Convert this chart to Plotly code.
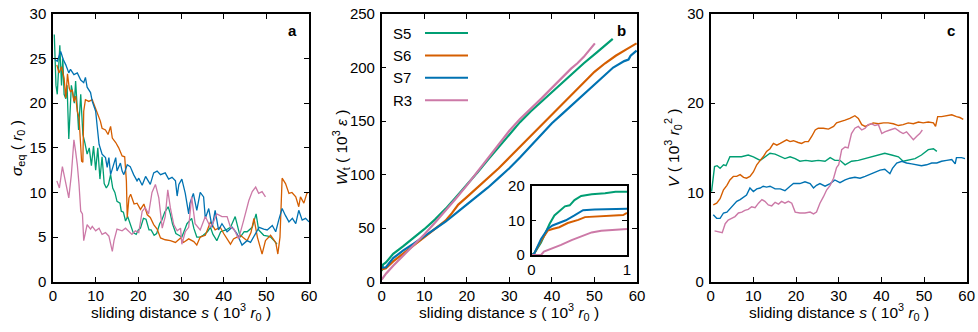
import plotly.graph_objects as go

W, H = 978, 332
def X(px): return px / W
def Y(py): return 1 - py / H

names = ["S5", "S6", "S7", "R3"]
colors = {"S5": "#009E73", "S6": "#D55E00", "S7": "#0072B2", "R3": "#CC79A7"}

# ---------------- panel a : sigma_eq (r0) vs sliding distance (10^3 r0)
a_S5_s = [0.3,0.7,1.0,1.3,1.6,2.0,2.3,2.6,3.0,3.3,3.7,4.0,4.3,4.7,5.0,5.3,5.7,6.0,6.5,6.8,7.0,7.5,8.0,8.5,9.0,9.5,10.0,10.5,11.0,11.5,12.0,12.5,13.0,13.5,14.0,14.5,15.0,15.7,16.0,16.5,17.0,17.5,18.0,18.8,19.5,20.0,20.5,21.2,21.8,22.5,23.0,23.7,24.3,25.0,25.5,26.2,27.0,27.5,28.0,28.8,29.5,30.2,31.0,31.4,32.5,33.0,33.7,34.5,35.2,36.2,36.9,37.5,38.4,39.3,40.5,41.6,42.7,43.3,43.9,44.8,45.5,46.7,47.6,48.2,49.4,50.4,51.0,51.8,52.5]
a_S5 = [27.7,22,21,24,26.5,22,25,21,20.5,22,16,19,22,21,20,22.5,19,17,21,18,16.5,15.5,14.3,15,13,15.2,12.5,15,11.5,14,11,10.5,10.9,12,10.5,10,9,8.8,7.9,7.8,6.8,7.3,6.6,5.5,5.3,5.8,6,7.1,7,5.8,5.8,5.2,5.4,6.5,6.9,7.8,8.4,7.6,6.5,5.4,5.2,5,6,6.5,7.1,6,5,5,5.2,5.6,6.1,5.3,4.6,5.6,5.8,6.1,7.3,6,5,5.6,5.6,6.1,7.6,5.8,5.2,5.1,5,4.6,4.2]
a_S6_s = [0.9,1.4,2.0,2.6,3.0,3.4,3.8,4.1,4.5,4.9,5.3,5.7,6.1,6.7,7.0,7.2,7.6,8.4,9.2,9.6,10.4,11.1,11.5,12.3,12.9,13.5,13.9,14.7,15.4,16.2,16.8,17.2,17.4,17.8,18.2,19.0,19.7,20.5,21.3,22.1,22.8,23.6,24.4,25.2,26.3,27.5,28.7,29.9,30.6,31.8,33.0,33.7,34.5,35.7,36.9,38.0,39.2,40.0,41.6,42.3,43.9,45.5,46.4,47.1,47.9,49.0,49.8,51.0,52.2,52.7,53.2,53.7,54.5,55.3,56.0,56.9,57.6,58.0,58.8,59.5,59.8]
a_S6 = [24.3,23.4,24.1,22.8,20.6,23.3,21.7,21.3,21.5,20.2,20.8,19.1,18.4,13.5,13.4,19.1,20.4,20.2,20.4,19.9,19.1,18,17.2,17,16.5,17.4,16.1,15.6,15,14.1,14,11.3,7.2,9.4,9.8,8.7,8.8,8.1,8.7,7.5,7.2,6.4,5.9,4.9,4.7,4.6,4.4,4.9,4.4,4.8,4.5,4.1,5,5.2,6.7,5.8,6.1,5.4,4.2,4.8,5.2,4.6,5.5,7.1,5,3.1,4.6,5.2,4.4,3.1,5,11.6,11,9.9,10,9.5,8.4,9.5,8.8,9.9,10]
a_S7_s = [0.4,1.0,1.8,2.4,3.0,3.7,4.1,4.9,5.7,6.5,7.2,7.6,8.0,8.8,9.2,10.0,10.4,10.8,11.5,12.3,12.7,13.1,13.5,14.3,14.7,15.0,15.8,16.2,16.6,17.4,18.1,18.9,19.7,20.1,20.9,21.7,22.8,23.6,24.4,25.2,26.3,27.1,27.9,28.7,29.1,29.5,30.2,31.0,31.8,32.1,32.9,33.7,34.5,35.3,35.7,36.5,37.3,38.0,38.8,39.6,40.8,42.0,43.1,44.3,45.5,46.3,47.5,48.3,49.4,50.2,51.4,52.2,52.9,53.7,54.5,55.3,56.1,56.9,57.6,58.4,59.2,60.0]
a_S7 = [24.9,24.7,25.8,24.9,24.3,23.4,23.8,23.2,23.4,22.6,22.3,22.9,21.8,21.2,20.2,19.1,17.2,15.4,14.3,13.9,12.8,13.9,12,13.3,13.9,12.4,13.3,12.4,12,13.1,12.9,12,11.3,11.6,10.8,11.8,10.9,12.2,12.4,12,12.2,11.5,11.7,11.3,9.6,10.9,11.5,9.9,7.6,8.8,9.9,8,10,9.5,7.1,8.2,6.1,8,5.8,6.5,5.6,6.1,5.4,4.1,4.6,4.4,5.4,6.1,5.9,5.8,6.3,5.6,6.9,8.2,7.4,6.7,7.1,6.5,8,6.9,7.1,6.7]
a_R3_s = [0.9,1.5,2.2,2.9,3.7,4.3,4.9,5.3,5.7,6.1,6.5,6.9,7.2,8.0,8.8,9.2,10.0,10.8,11.5,12.3,13.1,13.9,14.3,15.0,16.2,17.0,17.7,18.5,19.3,20.1,20.9,21.6,22.4,23.2,24.0,24.8,25.6,26.3,26.9,27.5,28.3,29.1,29.9,30.2,31.0,31.8,32.5,33.3,34.5,35.7,36.9,37.6,38.4,39.6,40.8,41.6,42.4,43.5,44.7,45.9,46.7,47.5,48.2,49.0,49.8]
a_R3 = [11.3,10.5,12.9,11.3,9.4,12,15.9,14.6,13.1,10.9,7.9,7.6,4.6,6.4,5.9,6.2,5.7,6,5.3,5.5,5.1,3.4,4.6,5.9,5.7,6,5.7,5.3,5.7,5.5,7.9,8.3,7.6,10,10.9,9.4,6,7.3,10.3,8.3,6.4,5.7,6,4.2,5.6,6.1,9.5,6.5,5.8,7.3,6.1,6.7,7.6,7.3,7.3,6.1,5.9,4.8,6.9,9.1,10.1,10.6,9.9,10.1,9.5]

# ---------------- panel b : W_t (10^3 eps)
b_S5_s = [0,0.3,1,2.7,5,7.5,10,12.5,15,17.5,20,22.5,25,27.5,30,32.5,35,37.5,40,42.5,45,46.5,47.5,50.5,52,54.3]
b_S5 = [10,16,18,26,33,41,49,58,68,79,90,102,114,126,138,149,159,168,177,186,195,201,204,214,219,226.7]
b_S6_s = [0,1,2.7,5,7.5,10,12.5,15,16.5,18,20,22.5,25,27.5,30,32.5,35,37.5,40,42.5,45,47.5,50,52.5,55,57.5,59.9]
b_S6 = [11.5,12.5,19,26,33.5,41.5,49,57,64,72,79,88,97,106,116,126,136,146,156,166,176,186,196,204,211,217,222.6]
b_S7_s = [0,1,2.7,5,7.5,10,12.5,15,17.5,20,22.5,25,27.5,30,32.5,35,37.5,40,42.5,45,47.5,50,52.5,54.4,57,58,58.5,59.9]
b_S7 = [13,13.5,22,29,35.5,42.5,49,56,64,72,80,88,97,106,116,127,138,148,157,166,175,184,193,200,206,207.5,211,215.8]
b_R3_s = [0,1,2.7,5,7.5,10,12.5,15,17.5,20,22.5,25,27.5,30,32.5,35,37.5,40,42.5,44.5,46,47.5,50.1]
b_R3 = [2,7.5,15,24,34,44,55,66,78,90,103,116,128,141,152,162,171,181,191,199,204,210,222.6]

# inset (first 10^3 r0)
i_S5_s = [0,0.03,0.1,0.19,0.24,0.29,0.35,0.4,0.45,0.52,0.63,0.77,0.88,1.0]
i_S5 = [0,0.5,3.6,9,11.4,12.7,14,14.3,15.8,17,17.5,17.8,18.2,18.2]
i_S6_s = [0,0.03,0.1,0.17,0.22,0.29,0.38,0.49,0.56,0.7,0.88,0.96,1.0]
i_S6 = [0,0.5,4.1,7,7.5,8,9.2,10.1,10.9,11.1,11.4,11.5,12.1]
i_S7_s = [0,0.03,0.1,0.17,0.22,0.29,0.36,0.45,0.54,0.66,0.81,1.0]
i_S7 = [0,0.5,4.6,7.5,8.5,9.2,10,11.4,12.9,13.1,13.2,13.3]
i_R3_s = [0,0.1,0.13,0.2,0.31,0.42,0.52,0.63,0.73,0.88,1.0]
i_R3 = [0,0,1,1.7,2.9,4.3,5.3,6.5,7,7.3,7.5]

# ---------------- panel c : V (10^3 r0^2)
c_S5_s = [0.2,0.5,0.9,1.5,2.2,3.0,3.6,4.5,5.7,7.2,8.8,10.0,11.6,12.7,13.9,15.1,16.3,17.4,18.6,19.8,20.9,22.3,23.7,25.2,26.8,28.0,29.1,30.3,31.5,33.0,34.6,36.2,37.7,39.3,40.8,42.4,44.0,45.1,46.3,47.9,49.4,51.0,52.2,53.0]
c_S5 = [10.1,11.5,12.9,13,12.7,13.1,13.0,14,14,14,14.2,14,13.6,14,14.4,14.3,14,13.8,14,13.8,13.5,13.6,13.5,13.6,13.5,13.9,13.6,13.6,13.1,13.5,13.6,13.8,14,14.2,14.4,14.2,14,13.5,13.6,13.8,14.2,14.8,14.9,14.6]
c_S6_s = [0.6,1.4,2.2,3.0,3.8,4.5,5.3,6.1,6.9,7.7,8.4,9.2,10.0,10.8,11.6,12.3,13.1,13.9,14.7,15.5,16.3,17.0,17.8,18.6,19.4,20.5,21.3,22.1,22.9,23.7,24.5,25.2,26.4,27.6,28.8,29.5,30.3,31.5,32.6,33.8,34.6,35.4,36.2,37.0,38.1,39.3,40.5,41.6,42.8,44.0,45.1,46.3,47.5,48.7,49.8,51.0,52.2,52.7,53.2,54.1,55.3,56.5,57.6,58.4,59.2]
c_S6 = [8.6,8.8,9.3,10.3,10.8,11.4,11.8,11.8,12,11.7,11.6,11.8,12.3,13.1,13.6,14,14.6,14.9,15.5,15.3,15.5,15.7,15.9,15.7,15.8,15.6,15.5,15.7,15.7,16.3,17,17.2,17.2,17.1,17.4,17.8,17.9,18.1,18.3,18.6,18.3,17.6,17.4,17.6,17.8,17.7,17.8,17.8,17.7,17.5,17.6,17.8,17.7,17.9,17.8,17.9,17.8,17.4,18.5,18.5,18.6,18.7,18.5,18.4,18.2]
c_S7_s = [0.6,1.4,2.2,3.0,3.8,4.5,5.3,6.1,6.9,7.7,8.4,9.2,10.0,10.8,11.6,12.3,13.1,13.9,15.1,16.3,17.4,18.6,19.4,20.9,22.1,23.3,24.1,24.8,25.6,26.8,28.0,29.1,30.3,31.5,32.6,33.8,35.0,36.2,37.3,38.5,39.7,40.8,42.0,42.6,43.6,44.8,45.9,47.1,48.3,49.4,50.6,51.8,53.0,54.1,55.3,56.5,57.3,57.6,58.8,59.6]
c_S7 = [7.5,7.1,7.1,7.7,7.8,8.2,8.6,9,9.2,9.5,9.7,10.5,10.1,10.4,10.5,10.7,10.6,10.7,10.4,10.4,10.2,10.7,11,11,11.2,11,10.5,10.8,11,10.7,11,11.4,11.1,11.4,11.6,11.7,11.6,11.8,12,12.3,12.5,12.6,12.1,12.7,13.3,13.5,13.3,13.2,13.1,13,13.1,13.3,13.3,13.5,13.6,13.7,13.2,13.9,13.9,13.8]
c_R3_s = [0.9,1.8,2.7,3.4,4.1,4.9,5.7,6.5,7.3,8.0,8.8,9.6,10.4,11.2,12.0,12.7,13.5,14.3,15.1,15.9,16.6,17.4,18.2,19.0,19.8,20.9,22.1,23.3,24.1,24.8,25.6,26.4,27.2,28.0,28.8,29.5,30.0,30.7,31.5,32.2,33.0,33.8,34.6,35.4,36.2,36.9,37.7,38.5,39.3,40.1,40.8,42.0,43.2,44.4,45.1,45.9,46.7,47.5,48.3,49.0,49.6]
c_R3 = [5.7,5.6,5.5,6.5,6.9,7.1,7.3,7.7,7.8,8,8.1,8.4,8.3,8.8,9.2,9,8.6,8.5,8.9,8.7,9,8.8,9,8.8,7.8,7.7,7.7,7.8,7.6,7.8,8.8,9.5,10.3,10.8,11.6,12.8,13.1,14.8,15.1,15,16.6,17.2,17.4,17,17.2,17.6,17.7,17.5,17.6,16.6,16.8,17,17.2,16.8,16.6,16.8,16.3,15.9,16.3,16.6,17]

x_ticks = [0, 10, 20, 30, 40, 50, 60]

panel_a = {"S5": (a_S5_s, a_S5), "S6": (a_S6_s, a_S6), "S7": (a_S7_s, a_S7), "R3": (a_R3_s, a_R3)}
panel_b = {"S5": (b_S5_s, b_S5), "S6": (b_S6_s, b_S6), "S7": (b_S7_s, b_S7), "R3": (b_R3_s, b_R3)}
panel_i = {"S5": (i_S5_s, i_S5), "S6": (i_S6_s, i_S6), "S7": (i_S7_s, i_S7), "R3": (i_R3_s, i_R3)}
panel_c = {"S5": (c_S5_s, c_S5), "S6": (c_S6_s, c_S6), "S7": (c_S7_s, c_S7), "R3": (c_R3_s, c_R3)}

fig = go.Figure()
for data, xa, ya, lw in [(panel_a, "x", "y", 1.3), (panel_b, "x2", "y2", 2.2),
                         (panel_c, "x3", "y3", 1.4), (panel_i, "x4", "y4", 2.0)]:
    for n in names:
        xs, ys = data[n]
        fig.add_trace(go.Scatter(x=xs, y=ys, mode="lines", xaxis=xa, yaxis=ya,
                                 line=dict(color=colors[n], width=lw), showlegend=False))

FONT = "Liberation Sans, Arial, Helvetica, sans-serif"
FS = 15
FT = 15.5
ax = dict(showline=True, linecolor="black", linewidth=1.5, mirror="ticks",
          ticks="inside", ticklen=5, tickwidth=1, tickcolor="black", automargin=False,
          showgrid=False, zeroline=False, tickfont=dict(size=FS, color="black", family=FONT))
xax = dict(ax, ticklabelstandoff=0)
yax = dict(ax, ticklabelstandoff=2)

top, bot = Y(14), Y(281.7)
fig.update_layout(
    width=W, height=H, margin=dict(l=0, r=0, t=0, b=0, pad=0, autoexpand=False),
    paper_bgcolor="white", plot_bgcolor="white", showlegend=False,
    font=dict(family=FONT, size=FS, color="black"),
    xaxis=dict(xax, domain=[X(53), X(309)], range=[0, 60], tickvals=x_ticks, anchor="y"),
    yaxis=dict(yax, domain=[bot, top], range=[0, 30], dtick=5, anchor="x"),
    xaxis2=dict(xax, domain=[X(381.7), X(637)], range=[0, 60], tickvals=x_ticks, anchor="y2"),
    yaxis2=dict(yax, domain=[bot, top], range=[0, 250], dtick=50, anchor="x2"),
    xaxis3=dict(xax, domain=[X(710.7), X(966.7)], range=[0, 60], tickvals=x_ticks, anchor="y3"),
    yaxis3=dict(yax, domain=[bot, top], range=[0, 30], dtick=10, anchor="x3"),
    xaxis4=dict(xax, domain=[X(531.5), X(627)], range=[0, 1], tickvals=[0, 1], anchor="y4"),
    yaxis4=dict(yax, domain=[Y(255), Y(185.5)], range=[0, 20], tickvals=[0, 10, 20], anchor="x4"),
)

ann = []
xtitle = "sliding distance <i>s</i> ( 10<sup>3</sup> <i>r</i><sub>0</sub> )"
for cx in [(53 + 309) / 2, (381.7 + 637) / 2, (710.7 + 966.7) / 2]:
    ann.append(dict(x=X(cx), y=Y(312), xref="paper", yref="paper", text=xtitle,
                    showarrow=False, xanchor="center", yanchor="middle", font=dict(size=FT)))
ytitles = [(17, "<i>σ</i><sub>eq</sub> ( <i>r</i><sub>0</sub> )"),
           (341, "<i>W</i><sub>t</sub> ( 10<sup>3</sup> <i>ε</i> )"),
           (673, "<i>V</i> ( 10<sup>3</sup> <i>r</i><sub>0</sub><sup>2</sup> )")]
for px, t in ytitles:
    ann.append(dict(x=X(px), y=Y(148), xref="paper", yref="paper", text=t, textangle=-90,
                    showarrow=False, xanchor="center", yanchor="middle", font=dict(size=FT)))
for px, t in [(292, "a"), (621.5, "b"), (950.5, "c")]:
    ann.append(dict(x=X(px), y=Y(30), xref="paper", yref="paper", text="<b>%s</b>" % t,
                    showarrow=False, xanchor="center", yanchor="middle", font=dict(size=FS)))
shapes = []
for i, n in enumerate(names):
    py = 33 + i * 22.4
    ann.append(dict(x=X(391), y=Y(py), xref="paper", yref="paper", text=n, showarrow=False,
                    xanchor="left", yanchor="middle", font=dict(size=FS)))
    shapes.append(dict(type="line", xref="paper", yref="paper", x0=X(425), x1=X(468),
                       y0=Y(py), y1=Y(py), line=dict(color=colors[n], width=2)))
fig.update_layout(annotations=ann, shapes=shapes)

fig.write_html("out.html")
